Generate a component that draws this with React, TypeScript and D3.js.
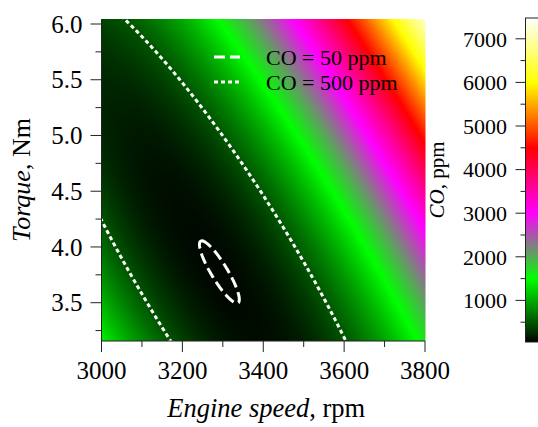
import { useMemo } from 'react'
import * as d3 from 'd3'

// axis ticks
const SPEED_TICKS = [3000, 3200, 3400, 3600, 3800]
const SPEED_MINOR = [3100, 3300, 3500, 3700]
const TORQUE_TICKS = [3.5, 4.0, 4.5, 5.0, 5.5, 6.0]
const TORQUE_MINOR = [3.25, 3.75, 4.25, 4.75, 5.25, 5.75]
const CO_TICKS = [1000, 2000, 3000, 4000, 5000, 6000, 7000]
const CO_MINOR = [500, 1500, 2500, 3500, 4500, 5500, 6500]

// colour map of the CO scale (ppm -> colour)
const CMAP_STOPS = [0, 1500, 3000, 4500, 6000, 7500]
const CMAP_COLORS = ['#000000', '#00ff00', '#ff00ff', '#ff0000', '#ffff00', '#ffffff']

// fitted response surface, coded units: u = (speed - 3290) / 100, v = torque - 3.77
const CO_CENTER = [3290, 3.77]
const CO_MIN = 45
const CO_COEF = [91.75, 285, 285] // u^2, u*v, v^2

const CONTOUR_LEVELS = [50, 500]
const CONTOUR_LABELS = ['CO = 50 ppm', 'CO = 500 ppm']
const CONTOUR_DASH = ['11,5', '4,3']

const W = 538
const H = 427
const PLOT = { left: 101.5, right: 425, top: 19, bottom: 341 }
const BAR = { left: 525.5, width: 20, top: 18, bottom: 342 }
const FONT = "'Liberation Serif', 'Times New Roman', serif"

function coModel(speed: number, torque: number) {
  const u = (speed - CO_CENTER[0]) / 100
  const v = torque - CO_CENTER[1]
  return CO_MIN + CO_COEF[0] * u * u + CO_COEF[1] * u * v + CO_COEF[2] * v * v
}

export default function App() {
  const x = d3.scaleLinear().domain([3000, 3800]).range([PLOT.left, PLOT.right])
  const y = d3.scaleLinear().domain([3.5, 6.0]).range([302.7, 24])
  const c = d3.scaleLinear().domain([0, 7500]).range([344, 17])
  const color = d3.scaleLinear<string>().domain(CMAP_STOPS).range(CMAP_COLORS).clamp(true)

  // heatmap rendered to a bitmap, placed as an <image> in the svg
  const heatmap = useMemo(() => {
    const w = Math.round(PLOT.right - PLOT.left)
    const h = Math.round(PLOT.bottom - PLOT.top)
    const canvas = document.createElement('canvas')
    canvas.width = w
    canvas.height = h
    const ctx = canvas.getContext('2d')!
    const img = ctx.createImageData(w, h)
    for (let j = 0; j < h; j++) {
      const t = y.invert(PLOT.top + j + 0.5)
      for (let i = 0; i < w; i++) {
        const n = x.invert(PLOT.left + i + 0.5)
        const col = d3.rgb(color(coModel(n, t)))
        const k = (j * w + i) * 4
        img.data[k] = col.r
        img.data[k + 1] = col.g
        img.data[k + 2] = col.b
        img.data[k + 3] = 255
      }
    }
    ctx.putImageData(img, 0, 0)
    return { href: canvas.toDataURL(), w, h }
  }, [])

  // iso-lines from a grid that runs past the plot edges (edges get clipped)
  const contourPaths = useMemo(() => {
    const nx = 300, ny = 300
    const n0 = 2950, dn = 900 / (nx - 1)
    const t0 = 3.05, dt = 3.1 / (ny - 1)
    const values = new Array(nx * ny)
    for (let j = 0; j < ny; j++)
      for (let i = 0; i < nx; i++)
        values[j * nx + i] = coModel(n0 + i * dn, t0 + j * dt)
    const proj = d3.geoTransform({
      point(px: number, py: number) {
        this.stream.point(x(n0 + px * dn), y(t0 + py * dt))
      },
    })
    const path = d3.geoPath(proj)
    return d3.contours().size([nx, ny]).thresholds(CONTOUR_LEVELS)(values).map(g => path(g) || '')
  }, [])

  const barStops = d3.range(0, 7501, 250)

  return (
    <svg width={W} height={H} style={{ position: 'absolute', left: 0, top: 0 }} fontFamily={FONT}>
      <defs>
        <clipPath id="plot-clip">
          <rect x={PLOT.left} y={PLOT.top} width={PLOT.right - PLOT.left} height={PLOT.bottom - PLOT.top} />
        </clipPath>
        <linearGradient id="bar-grad" x1="0" y1="1" x2="0" y2="0">
          {barStops.map(v => (
            <stop key={v} offset={(BAR.bottom - c(v)) / (BAR.bottom - BAR.top)} stopColor={color(v)} />
          ))}
        </linearGradient>
      </defs>

      <image href={heatmap.href} x={PLOT.left} y={PLOT.top} width={heatmap.w} height={heatmap.h}
        preserveAspectRatio="none" />

      <g clipPath="url(#plot-clip)">
        {contourPaths.map((d, i) => (
          <path key={i} d={d} fill="none" stroke="#fff" strokeWidth={3}
            strokeDasharray={CONTOUR_DASH[i]} />
        ))}
      </g>

      {/* legend */}
      {CONTOUR_LABELS.map((label, i) => (
        <g key={label} transform={`translate(214,${57 + i * 25})`}>
          <line x1={0} x2={26} y1={0} y2={0} stroke="#fff" strokeWidth={3} strokeDasharray={CONTOUR_DASH[i]} />
          <text x={52} y={8} fontSize={22} fill="#000">{label}</text>
        </g>
      ))}

      {/* x axis */}
      <line x1={PLOT.left} x2={PLOT.right} y1={PLOT.bottom} y2={PLOT.bottom} stroke="#222" />
      {SPEED_TICKS.map(v => (
        <g key={v}>
          <line x1={x(v)} x2={x(v)} y1={PLOT.bottom} y2={PLOT.bottom + 11} stroke="#222" />
          <text x={x(v)} y={379} fontSize={25} textAnchor="middle">{v}</text>
        </g>
      ))}
      {SPEED_MINOR.map(v => (
        <line key={v} x1={x(v)} x2={x(v)} y1={PLOT.bottom} y2={PLOT.bottom + 6} stroke="#222" />
      ))}
      <text x={(PLOT.left + PLOT.right) / 2 + 3} y={417} fontSize={26.5} textAnchor="middle">
        <tspan fontStyle="italic">Engine speed</tspan>, rpm
      </text>

      {/* y axis */}
      <line x1={PLOT.left} x2={PLOT.left} y1={PLOT.top} y2={PLOT.bottom} stroke="#222" />
      {TORQUE_TICKS.map(v => (
        <g key={v}>
          <line x1={PLOT.left - 11} x2={PLOT.left} y1={y(v)} y2={y(v)} stroke="#222" />
          <text x={PLOT.left - 19} y={y(v)} dy="0.35em" fontSize={25} textAnchor="end">{v.toFixed(1)}</text>
        </g>
      ))}
      {TORQUE_MINOR.map(v => (
        <line key={v} x1={PLOT.left - 6} x2={PLOT.left} y1={y(v)} y2={y(v)} stroke="#222" />
      ))}
      <text transform={`translate(29.5,${(PLOT.top + PLOT.bottom) / 2}) rotate(-90)`} fontSize={26} textAnchor="middle">
        <tspan fontStyle="italic">Torque</tspan>, Nm
      </text>

      {/* colour bar */}
      <rect x={BAR.left} y={BAR.top} width={BAR.width} height={BAR.bottom - BAR.top}
        fill="url(#bar-grad)" stroke="#222" strokeWidth={1} />
      {CO_TICKS.map(v => (
        <g key={v}>
          <line x1={BAR.left - 10} x2={BAR.left} y1={c(v)} y2={c(v)} stroke="#222" />
          <text x={507} y={c(v)} dy="0.35em" fontSize={22} textAnchor="end">{v}</text>
        </g>
      ))}
      {CO_MINOR.map(v => (
        <line key={v} x1={BAR.left - 5} x2={BAR.left} y1={c(v)} y2={c(v)} stroke="#222" />
      ))}
      <text transform={`translate(444,${(BAR.top + BAR.bottom) / 2}) rotate(-90)`} fontSize={21} textAnchor="middle">
        <tspan fontStyle="italic">CO</tspan>, ppm
      </text>
    </svg>
  )
}
